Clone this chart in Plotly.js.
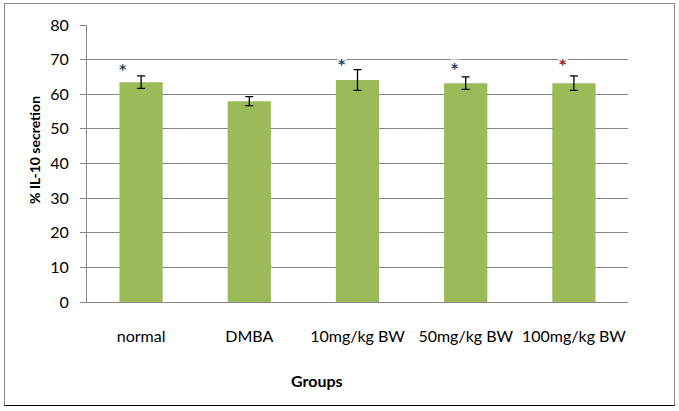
<!DOCTYPE html>
<html>
<head>
<meta charset="utf-8">
<script src="https://cdn.plot.ly/plotly-3.0.1.min.js"></script>
<style>
html,body{margin:0;padding:0;background:#fff;}
#wrap{position:relative;width:679px;height:411px;}
#chart{position:absolute;left:0;top:0;width:679px;height:411px;}
#frame{position:absolute;left:4px;top:3px;width:669px;height:401px;border-left:1px solid #8a8a8a;border-top:1px solid #8a8a8a;border-right:1px solid #8a8a8a;border-bottom:1px solid #000;pointer-events:none;}
</style>
</head>
<body>
<div id="wrap"><div id="chart"></div><div id="frame"></div></div>
<script>
var categories = ["normal", "DMBA", "10mg/kg BW", "50mg/kg BW", "100mg/kg BW"];
var values = [63.5, 58.0, 64.1, 63.2, 63.2];
var errors = [1.8, 1.3, 3.0, 1.8, 2.1];
var starLabels = ["*", "", "*", "*", "*"];
var starY = [68.4, null, 69.9, 68.6, 69.9];
var starColors = ["#1d4a5e", null, "#1f3864", "#1f3864", "#8b1a1a"];
var starShift = [-18, 0, -16, -11, -11];
var xTitle = "Groups";
var yTitle = "% IL-10 secretion";

var font = "Lato, 'Open Sans', 'DejaVu Sans', sans-serif";

var trace = {
  type: "bar",
  x: categories,
  y: values,
  marker: {color: "#9BBB59"},
  error_y: {type: "data", array: errors, visible: true, color: "#000", thickness: 1.3, width: 4},
  hoverinfo: "none"
};

var annotations = [];
for (var i = 0; i < categories.length; i++) {
  if (starLabels[i]) {
    annotations.push({
      x: categories[i], y: starY[i], xref: "x", yref: "y",
      text: "<b>" + starLabels[i] + "</b>", showarrow: false, xshift: starShift[i], yshift: -4,
      bgcolor: "#fff", borderpad: 0,
      font: {family: "'DejaVu Sans', sans-serif", size: 14, color: starColors[i]}
    });
  }
}
annotations.push({
  xref: "paper", yref: "paper", x: 0.5, y: -0.2816, xshift: -41,
  xanchor: "center", yanchor: "middle", showarrow: false,
  text: "<b>" + xTitle + "</b>", font: {family: font, size: 16, color: "#000"}
});
annotations.push({
  xref: "paper", yref: "paper", x: 0, y: 0.549, xshift: -52,
  xanchor: "center", yanchor: "middle", showarrow: false, textangle: -90,
  text: "<b>" + yTitle + "</b>", font: {family: font, size: 14, color: "#000"}
});

var layout = {
  width: 679, height: 411,
  margin: {l: 87, r: 51, t: 25, b: 109},
  paper_bgcolor: "#fff", plot_bgcolor: "#fff",
  bargap: 0.6,
  showlegend: false,
  font: {family: font, size: 15, color: "#000"},
  xaxis: {
    type: "category",
    showline: true, linecolor: "#868686", linewidth: 1,
    ticks: "", showgrid: false,
    tickfont: {family: font, size: 16, color: "#000"},
    ticklabelstandoff: 20
  },
  yaxis: {
    range: [0, 80], dtick: 10,
    showline: true, linecolor: "#868686", linewidth: 1,
    ticks: "outside", ticklen: 6, tickcolor: "#868686",
    showgrid: true, gridcolor: "#868686", gridwidth: 1,
    zeroline: false,
    tickfont: {family: font, size: 16, color: "#000"},
    ticklabelstandoff: 8
  },
  annotations: annotations
};

Plotly.newPlot("chart", [trace], layout, {displayModeBar: false, staticPlot: true});
</script>
</body>
</html>
